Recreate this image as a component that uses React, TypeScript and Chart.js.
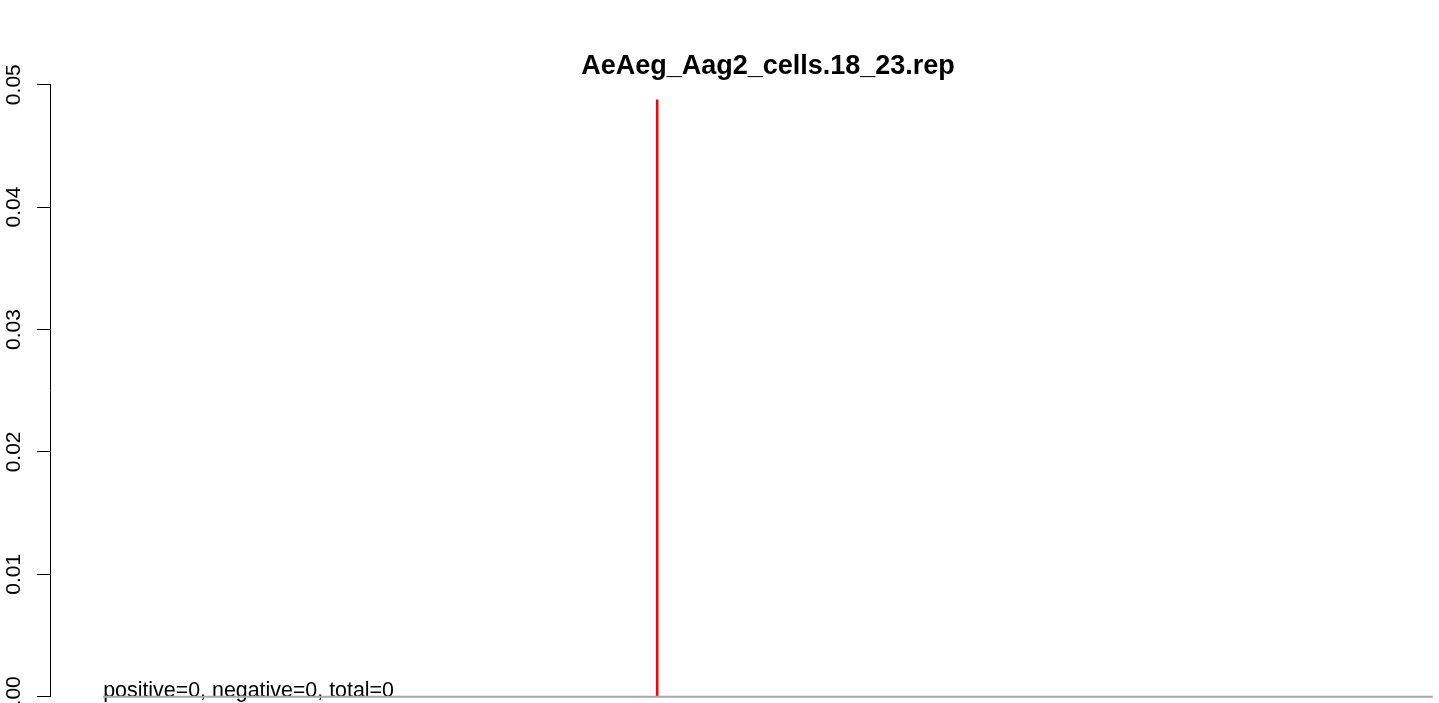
import React, { useEffect, useRef } from "react";
import { Chart, registerables } from "chart.js";

Chart.register(...registerables);

// ---- data ----
const chartTitle = "AeAeg_Aag2_cells.18_23.rep";
const summaryText = "positive=0, negative=0, total=0";
const yTicks = [0, 0.01, 0.02, 0.03, 0.04, 0.05];
const baselineX = [-10, 14];
const baselineY = [0, 0];
const markerX = [0, 0];
const markerY = [0, 0.0488];
const xRange = [-10.96, 14.96];
const yRange = [0, 0.05];

const FONT = "'Liberation Sans', Arial, Helvetica, sans-serif";

const summaryPlugin = {
  id: "summaryText",
  beforeDatasetsDraw(chart: any) {
    const { ctx, scales } = chart;
    const x = scales.x.getPixelForValue(baselineX[0]);
    const y = scales.y.getPixelForValue(0);
    ctx.save();
    ctx.font = `21.4px ${FONT}`;
    ctx.fillStyle = "#000000";
    ctx.textAlign = "left";
    ctx.textBaseline = "alphabetic";
    ctx.fillText(summaryText, x, y);
    ctx.restore();
  },
};

export default function App() {
  const canvasRef = useRef<HTMLCanvasElement | null>(null);

  useEffect(() => {
    if (!canvasRef.current) return;
    Chart.defaults.font.family = FONT;
    Chart.defaults.color = "#000000";
    const chart = new Chart(canvasRef.current, {
      type: "line",
      data: {
        datasets: [
          {
            label: "baseline",
            data: baselineX.map((x, i) => ({ x, y: baselineY[i] })),
            borderColor: "#A9A9A9",
            borderWidth: 2,
            pointRadius: 0,
            borderCapStyle: "butt",
            clip: false as any,
          },
          {
            label: "marker",
            data: markerX.map((x, i) => ({ x, y: markerY[i] })),
            borderColor: "#FF0000",
            borderWidth: 2.6,
            pointRadius: 0,
            borderCapStyle: "butt",
            clip: false as any,
          },
        ],
      },
      options: {
        responsive: false,
        animation: false,
        events: [],
        layout: { padding: { left: 0, right: 0, top: 0, bottom: 6.3 } },
        plugins: {
          legend: { display: false },
          tooltip: { enabled: false },
          title: {
            display: true,
            text: chartTitle,
            fullSize: false,
            color: "#000000",
            font: { size: 27, weight: "bold", family: FONT, lineHeight: 1.0 },
            padding: { top: 53.5, bottom: 4.2 },
          },
        },
        scales: {
          x: {
            type: "linear",
            display: false,
            min: xRange[0],
            max: xRange[1],
          },
          y: {
            type: "linear",
            position: "left",
            min: yRange[0],
            max: yRange[1],
            afterBuildTicks: (scale: any) => {
              scale.ticks = yTicks.map((v) => ({ value: v }));
            },
            afterFit: (scale: any) => {
              scale.width = 50;
              scale.paddingTop = 0;
              scale.paddingBottom = 0;
            },
            grid: {
              display: true,
              drawOnChartArea: false,
              drawTicks: true,
              tickLength: 13,
              tickColor: "#000000",
              tickWidth: 1,
            },
            border: { display: true, color: "#000000", width: 1 },
            ticks: {
              autoSkip: false,
              minRotation: 90,
              maxRotation: 90,
              crossAlign: "center",
              padding: 2.6,
              color: "#000000",
              font: { size: 21, family: FONT },
              callback: (v: any) => Number(v).toFixed(2),
            },
          },
        },
      } as any,
      plugins: [summaryPlugin],
    });
    return () => chart.destroy();
  }, []);

  return (
    <div
      style={{
        position: "absolute",
        left: 0,
        top: 0,
        width: 1439,
        height: 703,
        overflow: "hidden",
        background: "#ffffff",
      }}
    >
      <canvas ref={canvasRef} width={1486} height={703} style={{ display: "block" }} />
    </div>
  );
}
